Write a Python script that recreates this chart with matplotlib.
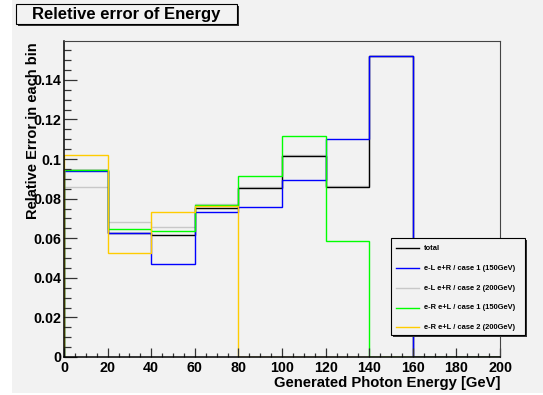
import matplotlib
matplotlib.use("Agg")
import matplotlib.pyplot as plt
from matplotlib.patches import Rectangle
from matplotlib.lines import Line2D
from matplotlib.ticker import MultipleLocator, FuncFormatter

# Bin edges of the photon energy histograms [GeV]
edges = [0, 20, 40, 60, 80, 100, 120, 140, 160, 180, 200]

# Relative error per bin
total = [0.0943, 0.0626, 0.0615, 0.0755, 0.0852, 0.1017, 0.0859, 0.1520, 0.0, 0.0]
eLeR_case1 = [0.0938, 0.0628, 0.0472, 0.0731, 0.0756, 0.0894, 0.1100, 0.1520, 0.0, 0.0]
eLeR_case2 = [0.0857, 0.0684, 0.0655, 0.0772, 0.0858, 0.1020, 0.0862, 0.1522, 0.0, 0.0]
eReL_case1 = [0.0945, 0.0644, 0.0636, 0.0767, 0.0912, 0.1118, 0.0584, 0.0, 0.0, 0.0]
eReL_case2 = [0.1022, 0.0523, 0.0730, 0.0762, 0.0, 0.0, 0.0, 0.0, 0.0, 0.0]

labels = ["total",
          "e-L e+R / case 1 (150GeV)",
          "e-L e+R / case 2 (200GeV)",
          "e-R e+L / case 1 (150GeV)",
          "e-R e+L / case 2 (200GeV)"]
colors = ["#000000", "#0000ff", "#c8c8c8", "#00ff00", "#ffcc00"]
series = [total, eLeR_case1, eLeR_case2, eReL_case1, eReL_case2]
draw_order = [2, 0, 1, 3, 4]

W, H = 543, 395
BG = "#f2f2f2"
FONT = "Liberation Sans"


def fx(x):
    return x / W


def fy(y):
    return 1 - y / H


fig = plt.figure(figsize=(W / 100, H / 100), dpi=100, facecolor="white")
fig.patches.append(Rectangle((fx(12), fy(393)), fx(W) - fx(12), fy(0) - fy(393),
                             transform=fig.transFigure, facecolor=BG,
                             edgecolor="none", zorder=-10))

ax = fig.add_axes([fx(64), fy(357), fx(500) - fx(64), fy(41) - fy(357)])
ax.set_facecolor(BG)

for i in draw_order:
    ax.stairs(series[i], edges, color=colors[i], linewidth=1.0, baseline=0.0)

ax.set_xlim(0, 200)
ax.set_ylim(0, 0.1596)

ax.xaxis.set_major_locator(MultipleLocator(20))
ax.xaxis.set_minor_locator(MultipleLocator(5))
ax.yaxis.set_major_locator(MultipleLocator(0.02))
ax.yaxis.set_minor_locator(MultipleLocator(0.005))
ax.yaxis.set_major_formatter(FuncFormatter(lambda v, p: "%g" % round(v, 4)))

ax.tick_params(axis="y", which="major", direction="in", length=9.4, width=0.9,
               color="#333333", pad=2)
ax.tick_params(axis="y", which="minor", direction="in", length=4.8, width=0.9,
               color="#333333")
ax.tick_params(axis="x", which="major", direction="in", length=6.5, width=0.9,
               color="#333333", pad=3)
ax.tick_params(axis="x", which="minor", direction="in", length=3.2, width=0.9,
               color="#333333")
for lab in ax.get_xticklabels() + ax.get_yticklabels():
    lab.set_fontfamily(FONT)
    lab.set_fontweight("bold")
    lab.set_fontsize(10.3)

for side in ("left", "bottom"):
    ax.spines[side].set_color("#000000")
    ax.spines[side].set_linewidth(1.1)
for side in ("top", "right"):
    ax.spines[side].set_color("#444444")
    ax.spines[side].set_linewidth(0.8)

# Axis titles
fig.text(fx(500), fy(387), "Generated Photon Energy [GeV]", ha="right",
         va="baseline", fontfamily=FONT, fontweight="bold", fontsize=10.7)
fig.text(fx(36.7), fy(42), "Relative Error in each bin", rotation=90,
         rotation_mode="anchor", ha="right", va="baseline",
         fontfamily=FONT, fontweight="bold", fontsize=10.5)


def shadow_box(x0, y0, x1, y1, shadow=2):
    fig.patches.append(Rectangle((fx(x0 + shadow), fy(y1 + shadow)),
                                 fx(x1 - x0), fy(y0) - fy(y1),
                                 transform=fig.transFigure, facecolor="#333333",
                                 edgecolor="none", zorder=5))
    fig.patches.append(Rectangle((fx(x0), fy(y1)), fx(x1 - x0), fy(y0) - fy(y1),
                                 transform=fig.transFigure, facecolor=BG,
                                 edgecolor="#000000", linewidth=0.8, zorder=6))


# Title box
shadow_box(16, 4, 237, 24)
fig.text(fx(126.5), fy(14.5), "Reletive error of Energy", ha="center",
         va="center", fontfamily=FONT, fontweight="bold", fontsize=12,
         zorder=7)

# Legend box
shadow_box(391, 238, 525, 335)
rows = [248.3, 268.3, 288.0, 307.7, 327.3]
for lab, col, yy in zip(labels, colors, rows):
    fig.add_artist(Line2D([fx(396), fx(419)], [fy(yy), fy(yy)],
                          transform=fig.transFigure, color=col,
                          linewidth=1.0, zorder=7))
    fig.text(fx(424), fy(yy), lab, ha="left", va="center", fontfamily=FONT,
             fontweight="bold", fontsize=5.4, zorder=7)

fig.savefig("out.png", dpi=100, facecolor=fig.get_facecolor())
